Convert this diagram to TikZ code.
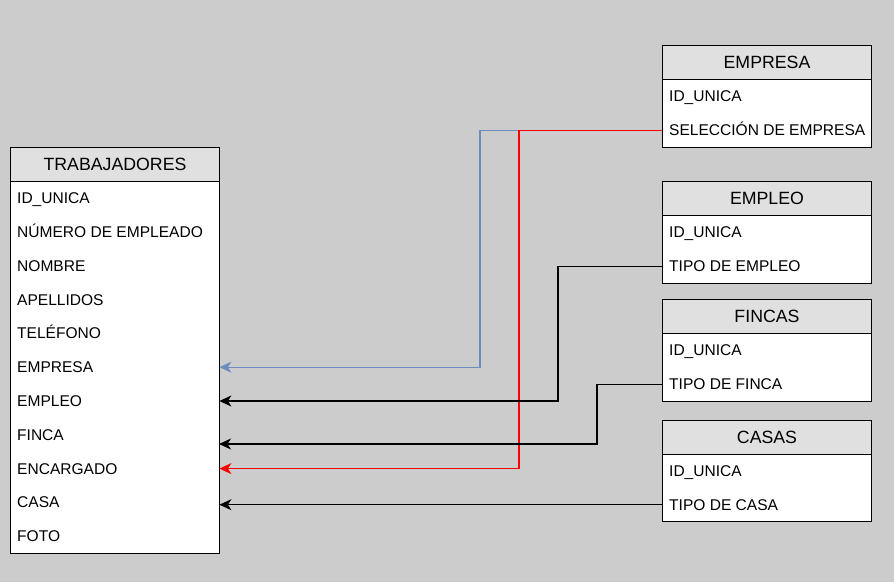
\documentclass[tikz,border=0pt]{standalone}
\usepackage{fontspec}
\setmainfont{Liberation Sans}
\usetikzlibrary{arrows.meta}
\definecolor{bggray}{HTML}{CCCCCC}
\definecolor{hdrgray}{HTML}{E0E0E0}
\definecolor{linkblue}{HTML}{6C8EBF}
\definecolor{linkred}{HTML}{FF0000}
\newcommand{\rowtext}[1]{\makebox[195bp][l]{#1}}
\tikzset{
  hdr/.style={draw=black, line width=1bp, fill=hdrgray, minimum width=209bp, minimum height=34bp, inner sep=0pt, text height=12.6bp, text depth=0bp, anchor=north west, font=\fontsize{17.8}{20}\selectfont},
  tbody/.style={draw=black, line width=1bp, fill=white, minimum width=209bp, inner sep=0pt, anchor=north west},
  trow/.style={inner xsep=7bp, inner ysep=0pt, minimum height=34bp, text height=11bp, text depth=0bp, anchor=north west, font=\fontsize{15.6}{18}\selectfont},
  tip/.tip={Stealth[length=12bp,width=11bp,inset=3.5bp]},
  link/.style={line width=1.2bp, -tip},
}
\begin{document}
\begin{tikzpicture}[x=1bp,y=-1bp]
\fill[bggray] (0,0) rectangle (894,582);
\useasboundingbox (0,0) rectangle (894,582);

% TRABAJADORES
\node[tbody, minimum height=372bp] (trabB) at (10,181) {};
\node[hdr] (trabH) at (10,147) {TRABAJADORES};
\node[trow] (t1) at (10,181) {\rowtext{ID\_UNICA}};
\node[trow] (t2) at (10,214.8) {\rowtext{NÚMERO DE EMPLEADO}};
\node[trow] (t3) at (10,248.6) {\rowtext{NOMBRE}};
\node[trow] (t4) at (10,282.4) {\rowtext{APELLIDOS}};
\node[trow] (t5) at (10,316.2) {\rowtext{TELÉFONO}};
\node[trow] (tEmpresa) at (10,350) {\rowtext{EMPRESA}};
\node[trow] (tEmpleo) at (10,383.8) {\rowtext{EMPLEO}};
\node[trow] (tFinca) at (10,417.6) {\rowtext{FINCA}};
\node[trow] (tEncargado) at (10,451.4) {\rowtext{ENCARGADO}};
\node[trow] (tCasa) at (10,485.2) {\rowtext{CASA}};
\node[trow] (t11) at (10,519) {\rowtext{FOTO}};

% EMPRESA
\node[tbody, minimum height=68bp] (empB) at (662,79) {};
\node[hdr] (empH) at (662,45) {EMPRESA};
\node[trow] (e1) at (662,79) {\rowtext{ID\_UNICA}};
\node[trow] (eSel) at (662,113) {\rowtext{SELECCIÓN DE EMPRESA}};

% EMPLEO
\node[tbody, minimum height=68bp] (emplB) at (662,215) {};
\node[hdr] (emplH) at (662,181) {EMPLEO};
\node[trow] (m1) at (662,215) {\rowtext{ID\_UNICA}};
\node[trow] (mTipo) at (662,249) {\rowtext{TIPO DE EMPLEO}};

% FINCAS
\node[tbody, minimum height=68bp] (finB) at (662,333) {};
\node[hdr] (finH) at (662,299) {FINCAS};
\node[trow] (f1) at (662,333) {\rowtext{ID\_UNICA}};
\node[trow] (fTipo) at (662,367) {\rowtext{TIPO DE FINCA}};

% CASAS
\node[tbody, minimum height=67bp] (casB) at (662,454) {};
\node[hdr] (casH) at (662,420) {CASAS};
\node[trow] (c1) at (662,454) {\rowtext{ID\_UNICA}};
\node[trow] (cTipo) at (662,487.5) {\rowtext{TIPO DE CASA}};

% connectors
\coordinate (fincaEnd) at (219,444);
\draw[link, linkblue] (eSel.west) -- ++(-182,0) |- (tEmpresa.east);
\draw[link, linkred] (eSel.west) -- ++(-143,0) |- (tEncargado.east);
\draw[link, black] (mTipo.west) -- ++(-104,0) |- (tEmpleo.east);
\draw[link, black] (fTipo.west) -- ++(-65,0) |- (fincaEnd);
\draw[link, black] (cTipo.west) -- (cTipo.west -| tCasa.east);
\end{tikzpicture}
\end{document}
